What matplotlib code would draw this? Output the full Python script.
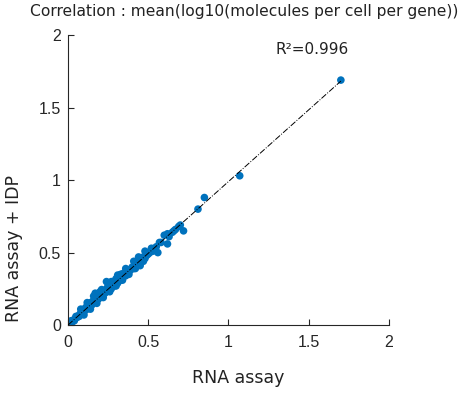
import numpy as np
import matplotlib.pyplot as plt

# mean log10 molecules per cell per gene
rna_assay = [0.00, 0.01, 0.02, 0.02, 0.03, 0.04, 0.04, 0.05, 0.05, 0.06,
             0.07, 0.07, 0.08, 0.09, 0.09, 0.10, 0.10, 0.11, 0.12, 0.12,
             0.13, 0.14, 0.14, 0.15, 0.15, 0.16, 0.17, 0.17, 0.18, 0.18,
             0.19, 0.19, 0.20, 0.20, 0.21, 0.22, 0.22, 0.23, 0.24, 0.24,
             0.25, 0.25, 0.26, 0.27, 0.28, 0.28, 0.29, 0.30, 0.30, 0.31,
             0.32, 0.33, 0.33, 0.34, 0.35, 0.36, 0.37, 0.38, 0.39, 0.40,
             0.41, 0.42, 0.43, 0.44, 0.45, 0.45, 0.46, 0.47, 0.48, 0.49,
             0.50, 0.51, 0.52, 0.53, 0.55, 0.56, 0.57, 0.60, 0.62, 0.63,
             0.65, 0.67, 0.69, 0.70, 0.72, 0.17, 0.20, 0.24, 0.33, 0.13,
             0.10, 0.14, 0.18, 0.22, 0.26, 0.30, 0.34, 0.38, 0.42, 0.47,
             0.08, 0.12, 0.16, 0.21, 0.27, 0.31, 0.36, 0.41, 0.44, 0.48,
             0.62, 0.58, 0.66,
             0.81, 0.85, 1.07, 1.70]
rna_idp = [0.00, 0.01, 0.015, 0.03, 0.025, 0.04, 0.03, 0.05, 0.06, 0.055,
           0.07, 0.06, 0.085, 0.08, 0.10, 0.10, 0.09, 0.12, 0.11, 0.13,
           0.12, 0.15, 0.13, 0.14, 0.16, 0.17, 0.16, 0.18, 0.17, 0.20,
           0.21, 0.18, 0.22, 0.19, 0.20, 0.23, 0.21, 0.22, 0.25, 0.23,
           0.24, 0.27, 0.26, 0.25, 0.28, 0.30, 0.27, 0.30, 0.32, 0.29,
           0.33, 0.31, 0.35, 0.33, 0.36, 0.34, 0.38, 0.37, 0.38, 0.40,
           0.39, 0.43, 0.42, 0.45, 0.44, 0.41, 0.46, 0.47, 0.46, 0.48,
           0.49, 0.50, 0.53, 0.51, 0.54, 0.50, 0.57, 0.62, 0.63, 0.61,
           0.64, 0.66, 0.68, 0.69, 0.65, 0.22, 0.23, 0.30, 0.35, 0.15,
           0.07, 0.11, 0.15, 0.19, 0.23, 0.27, 0.31, 0.35, 0.39, 0.44,
           0.11, 0.155, 0.20, 0.245, 0.30, 0.345, 0.39, 0.44, 0.47, 0.51,
           0.56, 0.57, 0.65,
           0.80, 0.88, 1.03, 1.69]
fit_slope = 0.99
r2 = 0.996
ticks = [0, 0.5, 1, 1.5, 2]
tick_labels = ['0', '0.5', '1', '1.5', '2']

blue = '#0072BD'

fig = plt.figure(figsize=(4.75, 3.95), dpi=100)
ax = fig.add_axes([0.143, 0.177, 0.676, 0.734])

ax.scatter(rna_assay, rna_idp, s=30, color=blue, edgecolors='none', zorder=2)
xl = np.array([min(rna_assay), max(rna_assay)])
ax.plot(xl, fit_slope * xl, color='black', lw=0.7, ls='-.', zorder=3)

ax.set_xlim(0, 2)
ax.set_ylim(0, 2)
ax.set_xticks(ticks)
ax.set_xticklabels(tick_labels)
ax.set_yticks(ticks)
ax.set_yticklabels(tick_labels)
for s in ['top', 'right']:
    ax.spines[s].set_visible(False)
for s in ['left', 'bottom']:
    ax.spines[s].set_color('#262626')
    ax.spines[s].set_linewidth(0.8)
ax.tick_params(direction='in', length=4, width=0.8, colors='#262626',
               labelsize=11.5)
ax.tick_params(axis='x', pad=7)
ax.tick_params(axis='y', pad=5)
for lab in ax.get_xticklabels() + ax.get_yticklabels():
    lab.set_family('Liberation Sans')

ax.text(1.29, 1.90, 'R²=0.996', fontsize=11, color='#222222',
        family='DejaVu Sans', va='center')

ax.set_xlabel('RNA assay', fontsize=12.5, color='#222222', family='DejaVu Sans')
ax.xaxis.set_label_coords(0.53, -0.15)
ax.set_ylabel('RNA assay + IDP', fontsize=12.5, color='#222222', family='DejaVu Sans')
ax.yaxis.set_label_coords(-0.14, 0.265)

fig.text(0.515, 0.97, 'Correlation : mean(log10(molecules per cell per gene))',
         ha='center', va='center', fontsize=11.2, color='#222222',
         family='DejaVu Sans')

fig.savefig('out.png', dpi=100)
